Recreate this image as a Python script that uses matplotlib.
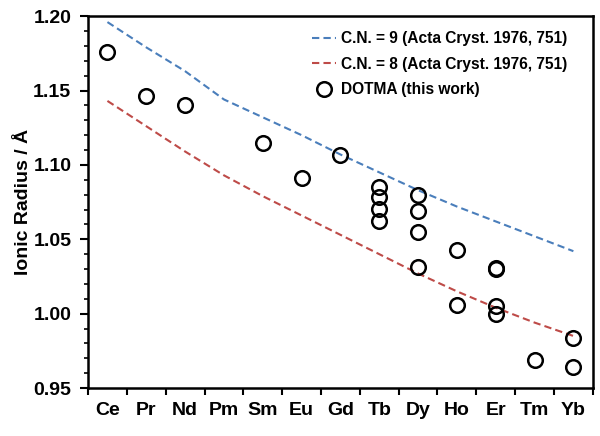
import matplotlib
matplotlib.use('Agg')
import matplotlib.pyplot as plt
from matplotlib.ticker import MultipleLocator, FixedLocator, FormatStrFormatter
import numpy as np

plt.rcParams['font.family'] = ['Liberation Sans', 'DejaVu Sans']
plt.rcParams['font.weight'] = 'bold'

elements = ['Ce', 'Pr', 'Nd', 'Pm', 'Sm', 'Eu', 'Gd', 'Tb', 'Dy', 'Ho', 'Er', 'Tm', 'Yb']
# Shannon radii, Acta Cryst. 1976, 751
cn9 = [1.196, 1.179, 1.163, 1.144, 1.132, 1.120, 1.107, 1.095, 1.083, 1.072, 1.062, 1.052, 1.042]
cn8 = [1.143, 1.126, 1.109, 1.093, 1.079, 1.066, 1.053, 1.040, 1.027, 1.015, 1.004, 0.994, 0.985]

# DOTMA structures (this work)
dotma_el = ['Ce', 'Pr', 'Nd', 'Sm', 'Eu', 'Gd',
            'Tb', 'Tb', 'Tb', 'Tb',
            'Dy', 'Dy', 'Dy', 'Dy',
            'Ho', 'Ho',
            'Er', 'Er', 'Er', 'Er',
            'Tm', 'Yb', 'Yb']
dotma_r = [1.176, 1.146, 1.140, 1.115, 1.091, 1.1066,
           1.085, 1.0786, 1.0701, 1.0622,
           1.080, 1.0692, 1.0546, 1.0315,
           1.0427, 1.0058,
           1.0300, 1.0306, 1.0051, 0.9995,
           0.9688, 0.9834, 0.9639]

x = np.arange(len(elements))
dx = [elements.index(e) for e in dotma_el]

fig = plt.figure(figsize=(6, 4.36), dpi=100)
ax = fig.add_axes([0.1467, 0.110, 0.8413, 0.853])

ax.plot(x, cn9, linestyle=(0, (3.5, 2)), color='#4a7ebb', lw=1.5,
        label='C.N. = 9 (Acta Cryst. 1976, 751)')
ax.plot(x, cn8, linestyle=(0, (3.5, 2)), color='#be4b48', lw=1.5,
        label='C.N. = 8 (Acta Cryst. 1976, 751)')
ax.plot(dx, dotma_r, 'o', ms=10.5, mfc='none', mec='black', mew=1.8,
        label='DOTMA (this work)')

ax.set_xlim(-0.5, len(elements) - 0.5)
ax.set_ylim(0.95, 1.20)
ax.set_xticks(x)
ax.set_xticklabels(elements)
ax.xaxis.set_minor_locator(FixedLocator(np.arange(-0.5, len(elements), 1.0)))
ax.tick_params(axis='x', which='major', length=0, pad=10, labelsize=14)
ax.tick_params(axis='x', which='minor', length=5, width=1.5, direction='out')

ax.yaxis.set_major_locator(MultipleLocator(0.05))
ax.yaxis.set_minor_locator(MultipleLocator(0.01))
ax.yaxis.set_major_formatter(FormatStrFormatter('%.2f'))
ax.tick_params(axis='y', which='major', length=6, width=1.5, labelsize=14, pad=6)
ax.tick_params(axis='y', which='minor', length=3, width=1.2)

for s in ax.spines.values():
    s.set_linewidth(1.8)

ax.set_ylabel('Ionic Radius / Å', fontsize=14, fontweight='bold', labelpad=1)

ax.legend(loc='upper right', bbox_to_anchor=(0.962, 0.976), frameon=False,
          fontsize=11.2, handlelength=1.6, handletextpad=0.3, labelspacing=0.68,
          borderaxespad=0.0)

fig.savefig('out.png', dpi=100)
